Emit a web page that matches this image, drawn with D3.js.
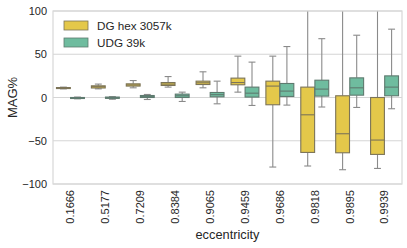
<!DOCTYPE html>
<html lang="en">
<head>
<meta charset="UTF-8">
<title>MAG% by eccentricity</title>
<script src="https://d3js.org/d3.v7.min.js"></script>
<style>
  body { margin: 0; background: #fff; }
  text { font-family: "Liberation Sans", Arial, sans-serif; fill: #262626; }
</style>
</head>
<body>
<script>
// categories and series
const eccentricity = ["0.1666", "0.5177", "0.7209", "0.8384", "0.9065", "0.9459", "0.9686", "0.9818", "0.9895", "0.9939"];
const hues = ["DG hex 3057k", "UDG 39k"];
const yTicks = [-100, -50, 0, 50, 100];

// [whisker low, q1, median, q3, whisker high]
const dgStats = [
  [10, 10.5, 11, 11.5, 12],
  [10, 11, 12.5, 13.5, 15.5],
  [11.2, 13.2, 14.5, 15.8, 19.6],
  [12, 13.9, 15.5, 17.3, 24.2],
  [11.2, 15, 17, 18.9, 29.7],
  [6.2, 14.7, 17.3, 22.4, 47.8],
  [-80.4, -8.4, 13.2, 18.9, 47.8],
  [-79.2, -63.5, -20, 12, 140],
  [-83.5, -63.9, -41.9, 2, 140],
  [-82, -65.8, -49.2, 0, 140]
];
const udgStats = [
  [-1.5, -1, -0.4, 0, 0.5],
  [-2, -1, -0.2, 0.5, 1],
  [-2.3, 0, 1, 2.3, 3.5],
  [-4.6, 0, 2, 3.9, 6.2],
  [-7.3, 0.8, 3.3, 5.8, 18.9],
  [-9.2, 0.5, 5, 12, 40.9],
  [-8.8, 1.2, 7.4, 16.2, 58.9],
  [-11, 1.6, 9.7, 20, 68],
  [-11.5, 2.7, 11.2, 22.7, 72],
  [-13, 2, 12, 25, 79]
];
const hueColors = ["#e4c84a", "#6fbc9f"];
const edgeColors = ["#7c7458", "#5e7a6f"];

const width = 407, height = 248;
const marginTop = 11, marginRight = 5, marginBottom = 64, marginLeft = 53;

const svg = d3.select("body").append("svg")
  .attr("width", width)
  .attr("height", height);

const x = d3.scaleBand()
  .domain(eccentricity)
  .range([marginLeft, width - marginRight]);

const xHue = d3.scaleBand()
  .domain(hues)
  .range([x.bandwidth() * 0.1, x.bandwidth() * 0.9])
  .paddingInner(0.02);

const y = d3.scaleLinear()
  .domain([-100, 100])
  .range([height - marginBottom, marginTop]);

svg.append("defs").append("clipPath").attr("id", "plot")
  .append("rect")
  .attr("x", marginLeft).attr("y", marginTop)
  .attr("width", width - marginRight - marginLeft)
  .attr("height", height - marginBottom - marginTop);

// grid
svg.append("g")
  .selectAll("line").data(yTicks).join("line")
  .attr("x1", marginLeft).attr("x2", width - marginRight)
  .attr("y1", d => y(d)).attr("y2", d => y(d))
  .attr("stroke", "#d0d0d0")
  .attr("stroke-width", 0.9);

// boxes
const series = [dgStats, udgStats];
series.forEach((stats, h) => {
  const g = svg.append("g").attr("clip-path", "url(#plot)")
    .selectAll("g").data(stats).join("g")
    .attr("transform", (d, i) => `translate(${x(eccentricity[i]) + xHue(hues[h])},0)`);
  const bw = xHue.bandwidth();

  g.append("line")
    .attr("x1", bw / 2).attr("x2", bw / 2)
    .attr("y1", d => y(d[0])).attr("y2", d => y(d[1]))
    .attr("stroke", "#8a8a8a").attr("stroke-width", 1.1);
  g.append("line")
    .attr("x1", bw / 2).attr("x2", bw / 2)
    .attr("y1", d => y(d[3])).attr("y2", d => y(d[4]))
    .attr("stroke", "#8a8a8a").attr("stroke-width", 1.1);
  [0, 4].forEach(k => {
    g.append("line")
      .attr("x1", bw / 4).attr("x2", bw * 3 / 4)
      .attr("y1", d => y(d[k])).attr("y2", d => y(d[k]))
      .attr("stroke", "#8a8a8a").attr("stroke-width", 1.1);
  });

  g.append("rect")
    .attr("x", 0).attr("width", bw)
    .attr("y", d => y(d[3]))
    .attr("height", d => Math.max(1, y(d[1]) - y(d[3])))
    .attr("fill", hueColors[h])
    .attr("stroke", edgeColors[h])
    .attr("stroke-width", 1.1);

  g.append("line")
    .attr("x1", 0).attr("x2", bw)
    .attr("y1", d => y(d[2])).attr("y2", d => y(d[2]))
    .attr("stroke", edgeColors[h])
    .attr("stroke-width", 1.1);
});

// frame
svg.append("rect")
  .attr("x", marginLeft).attr("y", marginTop)
  .attr("width", width - marginRight - marginLeft)
  .attr("height", height - marginBottom - marginTop)
  .attr("fill", "none")
  .attr("stroke", "#d8d8d8")
  .attr("stroke-width", 1.2);

// y axis
const yAxis = svg.append("g")
  .attr("transform", `translate(${marginLeft},0)`)
  .call(d3.axisLeft(y).tickValues(yTicks).tickSize(0).tickPadding(6)
    .tickFormat(d => d < 0 ? "\u2212" + Math.abs(d) : d));
yAxis.select(".domain").remove();
yAxis.selectAll("text").attr("font-size", 11).attr("fill", "#262626");

// x axis
const xAxis = svg.append("g")
  .attr("transform", `translate(0,${height - marginBottom})`)
  .call(d3.axisBottom(x).tickSize(0).tickPadding(0));
xAxis.select(".domain").remove();
xAxis.selectAll("text")
  .attr("font-size", 11)
  .attr("fill", "#262626")
  .attr("text-anchor", "end")
  .attr("dy", "0.35em")
  .attr("transform", "translate(0,6) rotate(-90)")
  .attr("x", 0).attr("y", 0);

svg.append("text")
  .attr("x", (marginLeft + width - marginRight) / 2)
  .attr("y", 239)
  .attr("text-anchor", "middle")
  .attr("font-size", 12.8)
  .text("eccentricity");

svg.append("text")
  .attr("transform", `translate(17,${y(0)}) rotate(-90)`)
  .attr("text-anchor", "middle")
  .attr("font-size", 13)
  .text("MAG%");

// legend
const legend = svg.append("g")
  .selectAll("g").data(hues).join("g")
  .attr("transform", (d, i) => `translate(64,${21 + i * 17})`);
legend.append("rect")
  .attr("width", 24).attr("height", 9)
  .attr("fill", (d, i) => hueColors[i])
  .attr("stroke", (d, i) => edgeColors[i])
  .attr("stroke-width", 0.8);
legend.append("text")
  .attr("x", 33).attr("y", 9)
  .attr("font-size", 11.7)
  .text(d => d);
</script>
</body>
</html>
